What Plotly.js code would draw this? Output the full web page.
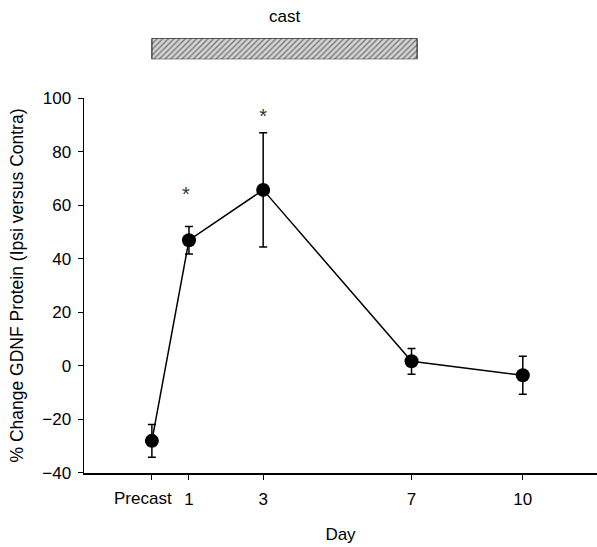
<!DOCTYPE html>
<html>
<head>
<meta charset="utf-8">
<script src="https://cdn.plot.ly/plotly-3.0.1.min.js"></script>
<style>html,body{margin:0;padding:0;background:#fff;}#chart{width:597px;height:547px;}</style>
</head>
<body>
<div id="chart"></div>
<script>
// Data
const days = [0, 1, 3, 7, 10];
const tickLabels = ["Precast", "1", "3", "7", "10"];
const meanChange = [-28, 46.9, 65.7, 1.7, -3.5];
const semChange = [6.1, 5.1, 21.3, 4.8, 7.1];
const sigDays = [0.92, 3];
const sigLabels = ["*", "*"];
const sigY = [63.5, 92.5];
const castStart = [0];
const castLength = [7.15];
const castLabel = ["cast"];

const font = "Liberation Sans, Arial, Helvetica, sans-serif";

const traces = [
  {
    x: days, y: meanChange, type: "scatter", mode: "lines+markers",
    line: {color: "#000", width: 1.5},
    marker: {color: "#000", size: 14},
    error_y: {type: "data", array: semChange, visible: true, color: "#000", thickness: 1.5, width: 4},
    xaxis: "x", yaxis: "y", showlegend: false, hoverinfo: "skip"
  },
  {
    x: sigDays, y: sigY, type: "scatter", mode: "text", text: sigLabels,
    textfont: {family: font, size: 20, color: "#333"},
    textposition: "middle center",
    xaxis: "x", yaxis: "y", showlegend: false, hoverinfo: "skip"
  },
  {
    x: castLength, base: castStart, y: castLabel, type: "bar", orientation: "h",
    width: 1,
    marker: {color: "#c8c8c8", line: {color: "#000", width: 1},
      pattern: {shape: "/", fgcolor: "#777", bgcolor: "#d6d6d6", size: 4, solidity: 0.35}},
    xaxis: "x", yaxis: "y2", showlegend: false, hoverinfo: "skip"
  }
];

// Tick labels: "Precast" is drawn slightly left of its tick, as in the reference
const tickText = tickLabels.map((t, i) => i === 0 ? "" : t);
const precastAnn = {
  text: tickLabels[0], xref: "x", x: days[0], yref: "paper", y: 0,
  xanchor: "center", yanchor: "middle", xshift: -9, yshift: -25,
  showarrow: false, font: {family: font, size: 17}
};

const layout = {
  width: 597, height: 547,
  margin: {l: 84, r: 0, t: 0, b: 74},
  paper_bgcolor: "#fff", plot_bgcolor: "rgba(0,0,0,0)",
  font: {family: font, size: 17, color: "#000"},
  xaxis: {
    range: [-1.83, 12], showgrid: false, zeroline: false,
    showline: true, linecolor: "#000", linewidth: 1.5,
    ticks: "outside", ticklen: 5, tickwidth: 1, tickcolor: "#000",
    tickmode: "array", tickvals: days, ticktext: tickText,
    tickangle: 0, ticklabelstandoff: 5,
    tickfont: {family: font, size: 17},
    title: {text: "Day", font: {family: font, size: 17}, standoff: 20}
  },
  yaxis: {
    domain: [0, 0.7928], range: [-40, 100], showgrid: false, zeroline: false,
    showline: true, linecolor: "#000", linewidth: 1.5,
    ticks: "outside", ticklen: 5, tickwidth: 1, tickcolor: "#000",
    tickvals: [-40, -20, 0, 20, 40, 60, 80, 100],
    ticktext: ["\u221240", "\u221220", "0", "20", "40", "60", "80", "100"],
    ticklabelstandoff: 3,
    tickfont: {family: font, size: 17},
    title: {text: "% Change GDNF Protein (Ipsi versus Contra)", font: {family: font, size: 17.5}, standoff: 14}
  },
  yaxis2: {
    domain: [0.8746, 0.919], range: [-0.5, 0.5], anchor: "x",
    visible: false, showgrid: false, zeroline: false, fixedrange: true
  },
  bargap: 0,
  annotations: [
    {text: castLabel[0], xref: "x", x: 3.58, yref: "paper", y: 0.9647,
     showarrow: false, font: {family: font, size: 17}, xanchor: "center", yanchor: "middle"},
    precastAnn
  ]
};

Plotly.newPlot("chart", traces, layout, {displayModeBar: false, staticPlot: true});
</script>
</body>
</html>
